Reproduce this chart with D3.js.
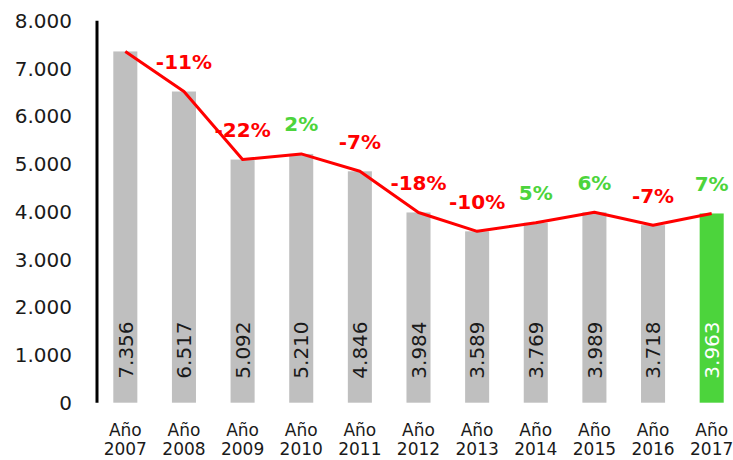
<!DOCTYPE html>
<html>
<head>
<meta charset="utf-8">
<script src="https://cdn.jsdelivr.net/npm/d3@7"></script>
<style>
  html, body { margin: 0; padding: 0; background: #fff; }
  svg { display: block; font-family: "DejaVu Sans", Verdana, sans-serif; }
</style>
</head>
<body>
<svg id="chart" width="733" height="460"></svg>
<script>
const years = ["2007","2008","2009","2010","2011","2012","2013","2014","2015","2016","2017"];
const values = [7356, 6517, 5092, 5210, 4846, 3984, 3589, 3769, 3989, 3718, 3963];
const changes = ["", "-11%", "-22%", "2%", "-7%", "-18%", "-10%", "5%", "6%", "-7%", "7%"];
const yTicks = [0, 1000, 2000, 3000, 4000, 5000, 6000, 7000, 8000];
const tickLabels = ["0", "1.000", "2.000", "3.000", "4.000", "5.000", "6.000", "7.000", "8.000"];
const valueLabels = ["7.356", "6.517", "5.092", "5.210", "4.846", "3.984", "3.589", "3.769", "3.989", "3.718", "3.963"];

const GRAY = "#bfbfbf", GREEN = "#4cd43c", RED = "#ff0000";
const svg = d3.select("#chart");

const x = d3.scaleBand().domain(years).range([96, 741]).paddingInner(0.59).paddingOuter(0.295);
const y = d3.scaleLinear().domain([0, 8000]).range([402.7, 20.7]);
const cx = d => x(d) + x.bandwidth() / 2;

// Y tick labels
svg.append("g").selectAll("text").data(yTicks).join("text")
  .attr("x", 72).attr("y", d => y(d)).attr("dy", "0.36em")
  .attr("text-anchor", "end").attr("font-size", 20).attr("fill", "#1a1a1a")
  .text((d, i) => tickLabels[i]);

// Bars
svg.append("g").selectAll("rect").data(years).join("rect")
  .attr("x", d => x(d)).attr("width", x.bandwidth())
  .attr("y", (d, i) => y(values[i])).attr("height", (d, i) => y(0) - y(values[i]))
  .attr("fill", (d, i) => i === years.length - 1 ? GREEN : GRAY);

// Y axis line
svg.append("line").attr("x1", 97).attr("x2", 97).attr("y1", y(8000)).attr("y2", y(0))
  .attr("stroke", "#000").attr("stroke-width", 3);

// Value labels inside bars (rotated)
svg.append("g").selectAll("text").data(years).join("text")
  .attr("transform", d => `translate(${cx(d)},${y(0) - 24}) rotate(-90)`)
  .attr("dy", "0.36em").attr("font-size", 20)
  .attr("fill", (d, i) => i === years.length - 1 ? "#ffffff" : "#1a1a1a")
  .text((d, i) => valueLabels[i]);

// Red line
const line = d3.line().x(d => cx(d)).y((d, i) => y(values[i]));
svg.append("path").datum(years).attr("d", line)
  .attr("fill", "none").attr("stroke", RED).attr("stroke-width", 3).attr("stroke-linejoin", "round");

// Percent change labels
svg.append("g").selectAll("text").data(years).join("text")
  .attr("x", d => cx(d)).attr("y", (d, i) => y(values[i]) - 22.5)
  .attr("text-anchor", "middle").attr("font-size", 20).attr("font-weight", "bold")
  .attr("fill", (d, i) => changes[i].startsWith("-") ? RED : GREEN)
  .text((d, i) => changes[i]);

// X labels
const xl = svg.append("g").selectAll("text").data(years).join("text")
  .attr("text-anchor", "middle").attr("font-size", 17).attr("fill", "#1a1a1a");
xl.append("tspan").attr("x", d => cx(d)).attr("y", 436).text("Año");
xl.append("tspan").attr("x", d => cx(d)).attr("y", 455).text(d => d);
</script>
</body>
</html>
